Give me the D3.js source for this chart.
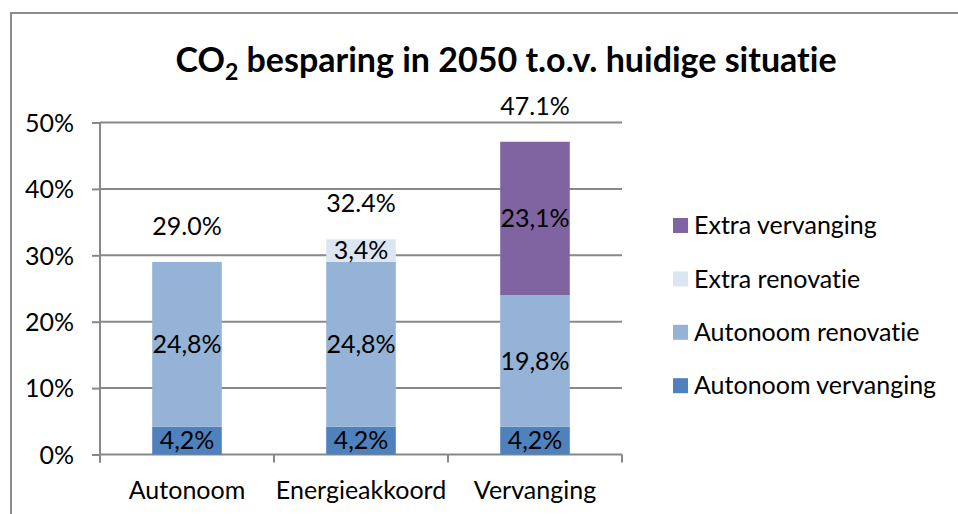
<!DOCTYPE html>
<html>
<head>
<meta charset="utf-8">
<script src="https://cdn.jsdelivr.net/npm/d3@7"></script>
<style>
  body { margin: 0; background: #fff; }
  svg text { font-family: Lato, "Open Sans", sans-serif; fill: #000; font-variant-ligatures: none; }
</style>
</head>
<body>
<svg id="grafico" width="958" height="514"></svg>
<script>
// categorias e series (valores em %)
const categorias = ["Autonoom", "Energieakkoord", "Vervanging"];
const autonoomVervanging = [4.2, 4.2, 4.2];
const autonoomRenovatie = [24.8, 24.8, 19.8];
const extraRenovatie = [0, 3.4, 0];
const extraVervanging = [0, 0, 23.1];
const totalen = [29.0, 32.4, 47.1];
const yTicks = [0, 10, 20, 30, 40, 50];

const seriesNamen = ["Autonoom vervanging", "Autonoom renovatie", "Extra renovatie", "Extra vervanging"];
const kleuren = ["#4F81BD", "#95B3D7", "#DCE6F2", "#8064A2"];

// tabela para o d3.stack
const rijen = categorias.map((c, i) => ({
  cat: c,
  "Autonoom vervanging": autonoomVervanging[i],
  "Autonoom renovatie": autonoomRenovatie[i],
  "Extra renovatie": extraRenovatie[i],
  "Extra vervanging": extraVervanging[i]
}));

const svg = d3.select("#grafico");
const fontSize = 25;
const gridColor = "#888888";

// moldura do grafico
svg.append("path")
  .attr("d", "M11,600 L11,13 L980,13")
  .attr("fill", "none")
  .attr("stroke", "#8c8c8c")
  .attr("stroke-width", 2);

// titulo
const titel = svg.append("text")
  .attr("x", 506)
  .attr("y", 72)
  .attr("text-anchor", "middle")
  .style("font-size", "34px")
  .style("font-weight", "bold");
titel.append("tspan").text("CO");
titel.append("tspan").text("2").attr("dy", 8).style("font-size", "23px");
titel.append("tspan").text(" besparing in 2050 t.o.v. huidige situatie").attr("dy", -8);

const pLeft = 100, pRight = 622, pTop = 122.5, pBottom = 454.5;

const x = d3.scaleBand().domain(categorias).range([pLeft, pRight]).paddingInner(0.6).paddingOuter(0.3);
const xGroep = d3.scaleBand().domain(categorias).range([pLeft, pRight]);
const y = d3.scaleLinear().domain([0, 50]).range([pBottom, pTop]);

// gridlines + eixo Y
const yAxis = d3.axisLeft(y).tickValues(yTicks).tickSize(8).tickFormat(d => d + "%");
const gY = svg.append("g").attr("transform", "translate(" + pLeft + ",0)").call(yAxis);
gY.select(".domain").remove();
gY.selectAll(".tick line").attr("stroke", gridColor).attr("stroke-width", 2);
gY.selectAll(".tick text").attr("x", -26).style("font-size", fontSize + "px").attr("dy", "0.35em");

svg.append("g").selectAll("line")
  .data(yTicks)
  .join("line")
  .attr("x1", pLeft).attr("x2", pRight)
  .attr("y1", d => y(d)).attr("y2", d => y(d))
  .attr("stroke", gridColor).attr("stroke-width", 2);

svg.append("line")
  .attr("x1", pLeft).attr("x2", pLeft)
  .attr("y1", pTop).attr("y2", pBottom + 8)
  .attr("stroke", gridColor).attr("stroke-width", 2);

// barras empilhadas
const stack = d3.stack().keys(seriesNamen)(rijen);
const lagen = svg.append("g").selectAll("g")
  .data(stack)
  .join("g")
  .attr("fill", (d, i) => kleuren[i]);

lagen.selectAll("rect")
  .data(d => d.filter(s => s[1] - s[0] > 0))
  .join("rect")
  .attr("x", d => x(d.data.cat))
  .attr("width", x.bandwidth())
  .attr("y", d => y(d[1]))
  .attr("height", d => y(d[0]) - y(d[1]));

lagen.selectAll("text")
  .data(d => d.filter(s => s[1] - s[0] > 0))
  .join("text")
  .attr("x", d => x(d.data.cat) + x.bandwidth() / 2)
  .attr("y", d => (y(d[0]) + y(d[1])) / 2)
  .attr("dy", "0.35em")
  .attr("text-anchor", "middle")
  .style("font-size", fontSize + "px")
  .text(d => (d[1] - d[0]).toFixed(1).replace(".", ",") + "%");

// totais
svg.append("g").selectAll("text")
  .data(totalen)
  .join("text")
  .attr("x", (d, i) => x(categorias[i]) + x.bandwidth() / 2)
  .attr("y", d => y(d) - 36)
  .attr("dy", "0.35em")
  .attr("text-anchor", "middle")
  .style("font-size", fontSize + "px")
  .text(d => d.toFixed(1) + "%");

// eixo X
const xAxis = d3.axisBottom(xGroep).tickSize(0).tickPadding(27);
const gX = svg.append("g").attr("transform", "translate(0," + pBottom + ")").call(xAxis);
gX.select(".domain").remove();
gX.selectAll(".tick text").style("font-size", fontSize + "px");
svg.append("g").selectAll("line")
  .data(d3.range(categorias.length + 1))
  .join("line")
  .attr("x1", i => pLeft + i * xGroep.step()).attr("x2", i => pLeft + i * xGroep.step())
  .attr("y1", pBottom).attr("y2", pBottom + 8)
  .attr("stroke", gridColor).attr("stroke-width", 2);

// legenda
const legenda = svg.append("g").attr("transform", "translate(673,218)");
const legItems = legenda.selectAll("g")
  .data(seriesNamen.slice().reverse())
  .join("g")
  .attr("transform", (d, i) => "translate(0," + (i * 53.4) + ")");
legItems.append("rect")
  .attr("width", 15).attr("height", 15)
  .attr("fill", d => kleuren[seriesNamen.indexOf(d)]);
legItems.append("text")
  .attr("x", 21).attr("y", 7.5).attr("dy", "0.35em")
  .style("font-size", fontSize + "px")
  .text(d => d);
</script>
</body>
</html>
